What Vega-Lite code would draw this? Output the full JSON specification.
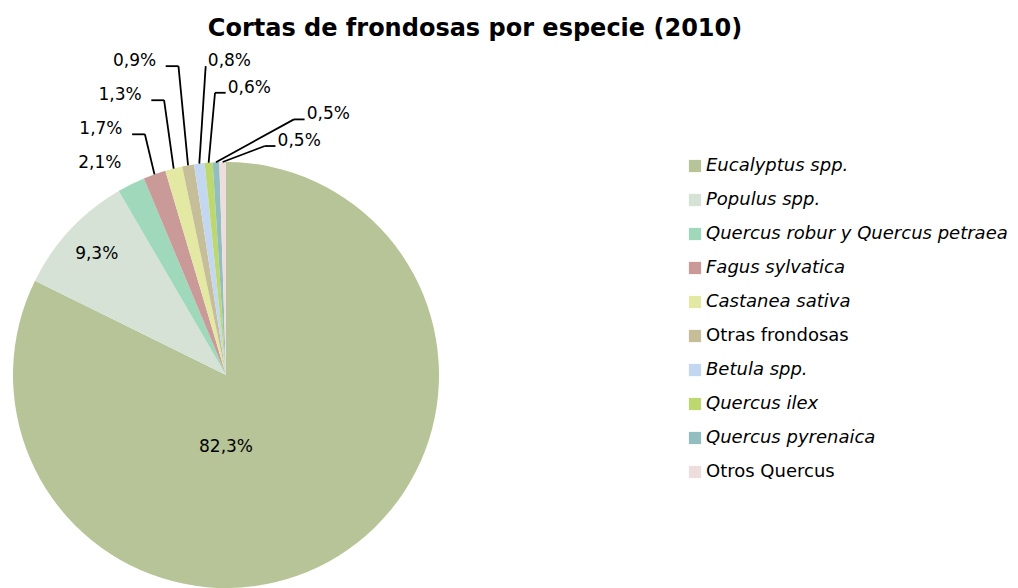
{
  "$schema": "https://vega.github.io/schema/vega-lite/v6.json",
  "width": 426,
  "height": 426,
  "autosize": "none",
  "padding": {"left": 13, "top": 162, "right": 579, "bottom": 0},
  "background": "white",
  "config": {"view": {"stroke": null}},
  "title": {
    "text": "Cortas de frondosas por especie (2010)",
    "font": "DejaVu Sans",
    "fontSize": 24,
    "fontWeight": "bold",
    "color": "black",
    "anchor": "middle",
    "frame": "group",
    "baseline": "alphabetic",
    "offset": -8,
    "dx": 249
  },
  "data": {
    "values": [
      {"especie": "Eucalyptus spp.", "pct": 82.3, "orden": 1},
      {"especie": "Populus spp.", "pct": 9.3, "orden": 2},
      {"especie": "Quercus robur y Quercus petraea", "pct": 2.1, "orden": 3},
      {"especie": "Fagus sylvatica", "pct": 1.7, "orden": 4},
      {"especie": "Castanea sativa", "pct": 1.3, "orden": 5},
      {"especie": "Otras frondosas", "pct": 0.9, "orden": 6},
      {"especie": "Betula spp.", "pct": 0.8, "orden": 7},
      {"especie": "Quercus ilex", "pct": 0.6, "orden": 8},
      {"especie": "Quercus pyrenaica", "pct": 0.5, "orden": 9},
      {"especie": "Otros Quercus", "pct": 0.5, "orden": 10}
    ]
  },
  "transform": [
    {"window": [{"op": "sum", "field": "pct", "as": "cum"}], "sort": [{"field": "orden"}], "frame": [null, 0]},
    {"calculate": "(datum.cum - datum.pct / 2) / 100 * 2 * PI", "as": "mid"},
    {"calculate": "sin(datum.mid)", "as": "sx"},
    {"calculate": "cos(datum.mid)", "as": "sy"},
    {"calculate": "datum.orden <= 2 ? 'in' : (datum.orden <= 6 ? 'left' : 'right')", "as": "grp"},
    {"calculate": "datum.orden - 7", "as": "k"},
    {"calculate": "datum.grp == 'left' ? 0.97 + 0.16 * (datum.orden - 3) : (datum.grp == 'right' ? 1.45 - 0.125 * datum.k : 0)", "as": "ey"},
    {"calculate": "datum.grp == 'left' ? datum.sx - 0.045 : (datum.grp == 'right' ? datum.sx + 0.03 + 0.14 * datum.k * (datum.k - 1) * (3.2 - datum.k) : 0)", "as": "ex"},
    {"calculate": "datum.grp == 'left' ? datum.ex - 0.06 : datum.ex + (datum.k > 0 ? 0.05 : 0)", "as": "hx"},
    {"calculate": "datum.grp == 'in' ? (datum.pct > 50 ? 0 : 0.83 * datum.sx) : (datum.grp == 'left' ? (datum.pct >= 2 ? datum.ex : datum.hx - 0.045) : datum.hx + 0.01)", "as": "tx"},
    {"calculate": "datum.grp == 'in' ? (datum.pct > 50 ? -0.34 : 0.83 * datum.sy) : datum.ey", "as": "ty"},
    {"calculate": "replace(format(datum.pct, '.1f'), '.', ',') + '%'", "as": "etiqueta"}
  ],
  "layer": [
    {
      "mark": {"type": "arc", "outerRadius": 213},
      "encoding": {
        "theta": {"field": "pct", "type": "quantitative", "stack": true},
        "order": {"field": "orden", "type": "quantitative"},
        "color": {
          "field": "especie",
          "type": "nominal",
          "scale": {
            "domain": ["Eucalyptus spp.", "Populus spp.", "Quercus robur y Quercus petraea", "Fagus sylvatica", "Castanea sativa", "Otras frondosas", "Betula spp.", "Quercus ilex", "Quercus pyrenaica", "Otros Quercus"],
            "range": ["#B7C497", "#D6E2D6", "#9FD8BA", "#C99A98", "#E3E8A2", "#C6BE99", "#C3D8F0", "#BDD86E", "#93BEC0", "#EDDEDD"]
          },
          "legend": {
            "orient": "none",
            "legendX": 673,
            "legendY": -5,
            "title": null,
            "padding": 0,
            "symbolType": "square",
            "symbolSize": 150,
            "symbolStrokeWidth": 0,
            "symbolOpacity": 1,
            "labelFont": "DejaVu Sans",
            "labelFontSize": 18,
            "labelColor": "black",
            "labelOffset": 2,
            "labelLimit": 400,
            "rowPadding": 16,
            "encode": {
              "labels": {
                "update": {
                  "fontStyle": {"signal": "datum.label == 'Otras frondosas' || datum.label == 'Otros Quercus' ? 'normal' : 'italic'"}
                }
              }
            }
          }
        }
      }
    },
    {
      "transform": [{"filter": "datum.grp != 'in' && datum.pct < 2"}],
      "mark": {"type": "rule", "color": "black", "strokeWidth": 1.8},
      "encoding": {
        "x": {"field": "sx", "type": "quantitative", "scale": {"domain": [-1, 1], "nice": false, "zero": false}, "axis": null},
        "y": {"field": "sy", "type": "quantitative", "scale": {"domain": [-1, 1], "nice": false, "zero": false}, "axis": null},
        "x2": {"field": "ex"},
        "y2": {"field": "ey"}
      }
    },
    {
      "transform": [{"filter": "datum.grp != 'in' && datum.pct < 2"}],
      "mark": {"type": "rule", "color": "black", "strokeWidth": 1.8},
      "encoding": {
        "x": {"field": "ex", "type": "quantitative"},
        "y": {"field": "ey", "type": "quantitative"},
        "x2": {"field": "hx"},
        "y2": {"field": "ey"}
      }
    },
    {
      "transform": [{"filter": "datum.grp == 'left'"}],
      "mark": {"type": "text", "align": "right", "baseline": "alphabetic", "font": "DejaVu Sans", "fontSize": 17, "color": "black"},
      "encoding": {
        "x": {"field": "tx", "type": "quantitative"},
        "y": {"field": "ty", "type": "quantitative"},
        "text": {"field": "etiqueta"}
      }
    },
    {
      "transform": [{"filter": "datum.grp == 'right'"}],
      "mark": {"type": "text", "align": "left", "baseline": "alphabetic", "font": "DejaVu Sans", "fontSize": 17, "color": "black"},
      "encoding": {
        "x": {"field": "tx", "type": "quantitative"},
        "y": {"field": "ty", "type": "quantitative"},
        "text": {"field": "etiqueta"}
      }
    },
    {
      "transform": [{"filter": "datum.grp == 'in'"}],
      "mark": {"type": "text", "align": "center", "baseline": "middle", "font": "DejaVu Sans", "fontSize": 17, "color": "black"},
      "encoding": {
        "x": {"field": "tx", "type": "quantitative"},
        "y": {"field": "ty", "type": "quantitative"},
        "text": {"field": "etiqueta"}
      }
    }
  ]
}
